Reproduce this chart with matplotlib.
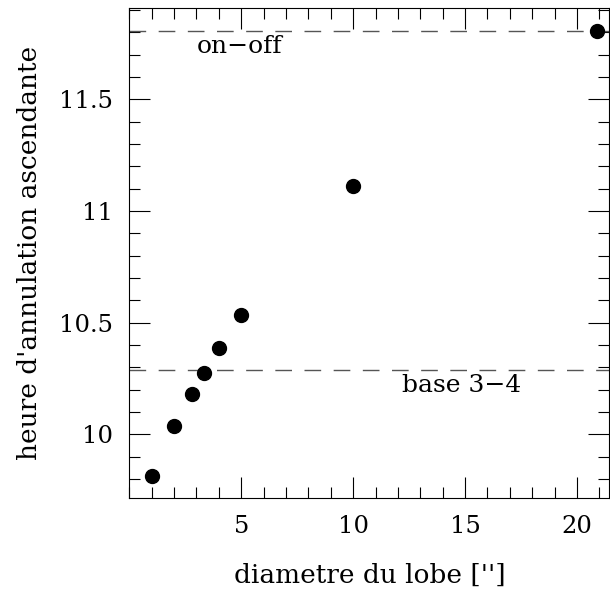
import matplotlib
matplotlib.use("Agg")
import matplotlib.pyplot as plt
from matplotlib.ticker import MultipleLocator

# donnees
diametre = [1.0, 2.0, 2.78, 3.34, 4.02, 5.01, 10.0, 20.9]
heure = [9.814, 10.037, 10.18, 10.276, 10.387, 10.534, 11.11, 11.806]

niveau_onoff = 11.807
niveau_base = 10.288

x_ticks = [5, 10, 15, 20]
y_ticks = [10, 10.5, 11, 11.5]
y_labels = ['10', '10.5', '11', '11.5']

plt.rcParams['font.family'] = ['DejaVu Serif']

fig = plt.figure(figsize=(6.1, 5.97), dpi=100)
ax = fig.add_axes([0.212, 0.166, 0.787, 0.821])

ax.plot(diametre, heure, 'o', color='black', markersize=10, zorder=3)
ax.axhline(niveau_onoff, color='#555555', lw=1, dashes=[12, 9])
ax.axhline(niveau_base, color='#555555', lw=1, dashes=[12, 9])

ax.text(3.0, niveau_onoff - 0.07, "on\u2212off", fontsize=18, va='center')
ax.text(12.2, niveau_base - 0.07, "base 3\u22124", fontsize=18, va='center')

ax.set_xlim(0, 21.45)
ax.set_ylim(9.716, 11.91)

ax.set_xticks(x_ticks)
ax.xaxis.set_minor_locator(MultipleLocator(1))
ax.set_yticks(y_ticks)
ax.set_yticklabels(y_labels)
ax.yaxis.set_minor_locator(MultipleLocator(0.1))

ax.tick_params(which='both', direction='in', top=True, right=True,
               width=0.8, labelsize=17.5, pad=12)
ax.tick_params(which='major', length=15)
ax.tick_params(which='minor', length=8)
for s in ax.spines.values():
    s.set_linewidth(0.8)

ax.set_xlabel("diametre du lobe ['']", fontsize=19, labelpad=18)
ax.set_ylabel("heure d'annulation ascendante", fontsize=19, labelpad=12)

fig.savefig("out.png", dpi=100)
